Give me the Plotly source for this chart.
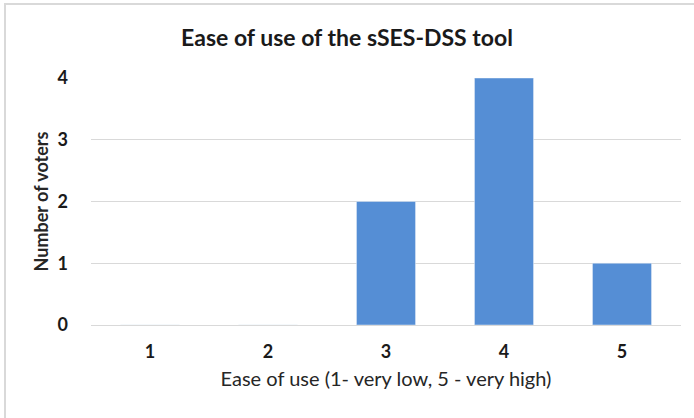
import plotly.graph_objects as go

categories = ["1", "2", "3", "4", "5"]
voters = [0, 0, 2, 4, 1]
y_ticks = [0, 1, 2, 3, 4]

W, H = 694, 418
L, R, T, B = 91, 13, 78, 93
pw, ph = W - L - R, H - T - B

def px_x(p):
    return (p - L) / pw

def px_y(p):
    return (H - B - p) / ph

FONT = "Lato"

fig = go.Figure(go.Bar(
    x=categories, y=voters, marker_color="#558ED5", width=0.5,
))

fig.update_layout(
    width=W, height=H,
    margin=dict(l=L, r=R, t=T, b=B, autoexpand=False),
    paper_bgcolor="white", plot_bgcolor="white",
    showlegend=False,
    font=dict(family=FONT, color="#262626"),
    title=dict(text="Ease of use of the sSES-DSS tool", x=0.5, xref="container",
               xanchor="center", y=1 - 38 / H, yanchor="middle",
               font=dict(size=23, color="#1a1a1a", family=FONT, weight="bold")),
    xaxis=dict(
        type="category", showgrid=False, showline=False, zeroline=False,
        tickfont=dict(size=18, color="#1a1a1a", family=FONT, weight="bold"),
        ticklabelstandoff=14,
        title=dict(text="Ease of use (1- very low, 5 - very high)", standoff=10,
                   font=dict(size=20, color="#262626", family=FONT)),
    ),
    yaxis=dict(
        range=[0, 4], tickvals=y_ticks, showgrid=True, gridcolor="#D9D9D9",
        gridwidth=1, zeroline=True, zerolinecolor="#D9D9D9", zerolinewidth=1,
        showline=False,
        tickfont=dict(size=18, color="#1a1a1a", family=FONT, weight="bold"),
        ticklabelstandoff=22,
        title=dict(text="Number of voters", standoff=4,
                   font=dict(size=18, color="#262626", family=FONT, weight="bold")),
    ),
    shapes=[dict(type="rect", xref="paper", yref="paper",
                 x0=px_x(5), x1=px_x(710), y0=px_y(4), y1=px_y(430),
                 line=dict(color="#D9D9D9", width=2), layer="below")],
)

fig.write_html("out.html", config={"displayModeBar": False},
               post_script="document.body.style.margin='0';document.body.style.padding='0';")
